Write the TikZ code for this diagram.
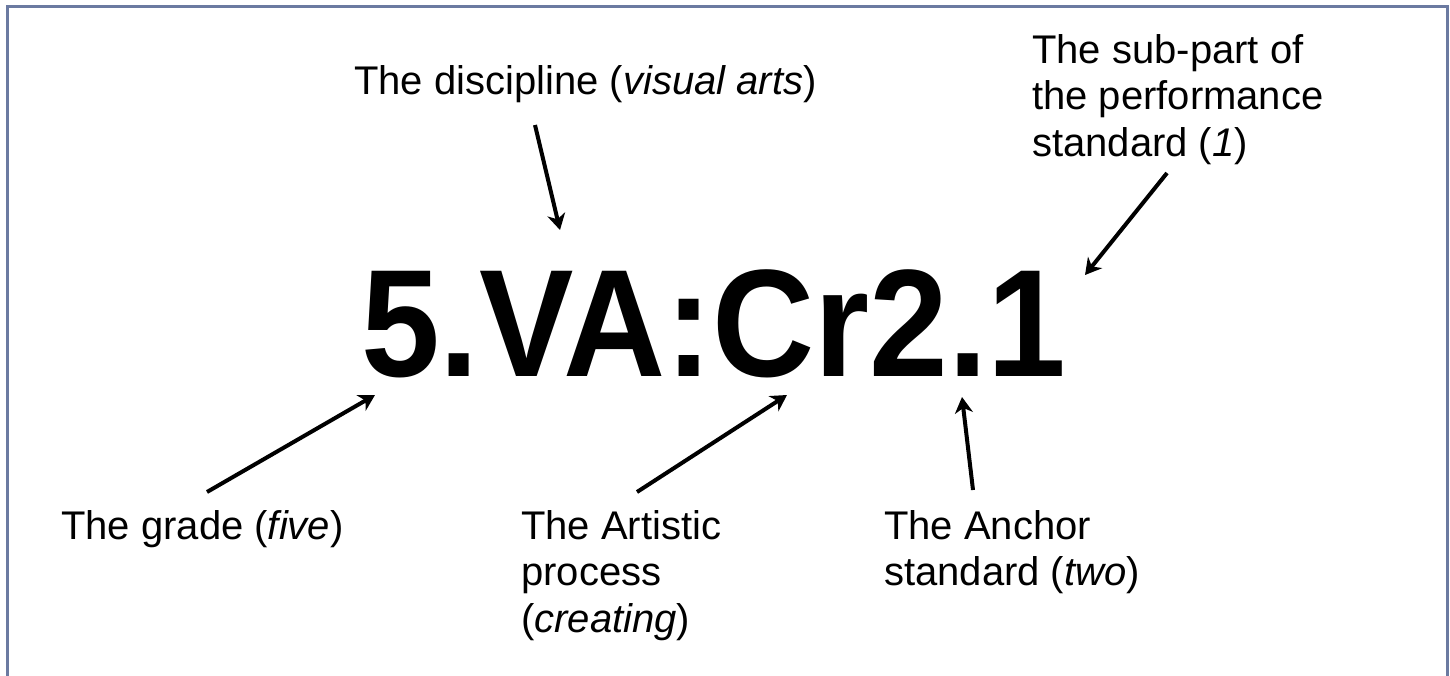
\documentclass[tikz,border=0pt]{standalone}
\usepackage{fontspec}
\usepackage{graphicx}
\setmainfont{Liberation Sans}
\usetikzlibrary{arrows.meta}
\definecolor{framecol}{RGB}{107,122,161}
\begin{document}
\begin{tikzpicture}[x=1pt,y=-1pt,
  lbl/.style={font=\fontsize{40}{46.5}\selectfont, inner sep=0pt, align=left},
  big/.style={font=\fontsize{153}{153}\selectfont\bfseries, inner sep=0pt},
  arr/.style={line width=4pt, -{Stealth[length=16pt,width=18pt,inset=5pt]}},
]
\useasboundingbox (0,0) rectangle (1450,675);
\draw[framecol, line width=3pt] (7,700) -- (7,6) -- (1447,6) -- (1447,700);

\node[big, anchor=base west] (code) at (361,376) {\scalebox{0.925}[1]{5.VA:Cr2.1}};

\node[lbl, anchor=base west] (disc) at (354,94) {The discipline (\textit{visual arts})};
\node[lbl, anchor=north west] (sub) at (1032,34) {The sub-part of\\the performance\\standard (\textit{1})};
\node[lbl, anchor=base west] (grade) at (61,539) {The grade (\textit{five})};
\node[lbl, anchor=north west] (art) at (521,510) {The Artistic\\process\\(\textit{creating})};
\node[lbl, anchor=north west] (anch) at (884,510) {The Anchor\\standard (\textit{two})};

\coordinate (discS) at (535,125);
\coordinate (discT) at (560,230);
\coordinate (subS) at (1167,173);
\coordinate (subT) at (1085,275);
\coordinate (gradeS) at (207,492);
\coordinate (gradeT) at (375,395);
\coordinate (artS) at (637,492);
\coordinate (artT) at (787,395);
\coordinate (anchS) at (973,490);
\coordinate (anchT) at (962,397);

\draw[arr] (discS) -- (discT);
\draw[arr] (subS) -- (subT);
\draw[arr] (gradeS) -- (gradeT);
\draw[arr] (artS) -- (artT);
\draw[arr] (anchS) -- (anchT);
\end{tikzpicture}
\end{document}
